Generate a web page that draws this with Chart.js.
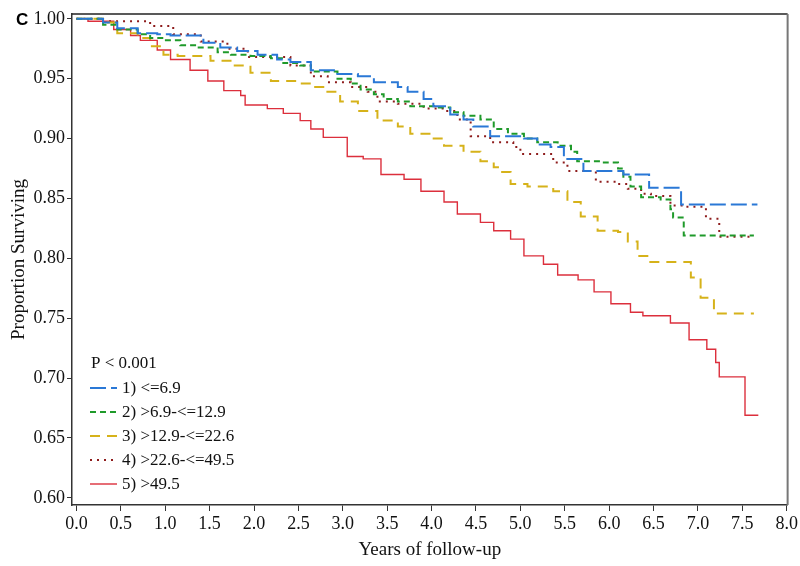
<!DOCTYPE html>
<html>
<head>
<meta charset="utf-8">
<script src="https://cdn.jsdelivr.net/npm/chart.js@4.4.0/dist/chart.umd.min.js"></script>
<style>
  html, body { margin: 0; padding: 0; background: #fff; }
  #wrap { width: 800px; height: 566px; }
</style>
</head>
<body>
<div id="wrap"><canvas id="km"></canvas></div>
<script>
// group labels
var groupNames = ['1) <=6.9', '2) >6.9-<=12.9', '3) >12.9-<=22.6', '4) >22.6-<=49.5', '5) >49.5']

// time (years) and proportion surviving at each step
var t1 = [0, 0.30, 0.46, 0.69, 0.91, 1.06, 1.43, 1.62, 1.81, 2.04, 2.26, 2.41, 2.64, 2.90, 3.17, 3.35, 3.62, 3.73, 3.91, 4.02, 4.21, 4.36, 4.47, 4.66, 5.04, 5.19, 5.34, 5.49, 5.71, 6.16, 6.45, 6.81, 7.67]
var s1 = [1.000, 0.997, 0.992, 0.988, 0.987, 0.986, 0.980, 0.976, 0.973, 0.970, 0.966, 0.964, 0.957, 0.954, 0.952, 0.947, 0.943, 0.939, 0.933, 0.927, 0.920, 0.916, 0.910, 0.902, 0.900, 0.895, 0.893, 0.883, 0.873, 0.870, 0.859, 0.845, 0.845]

var t2 = [0, 0.30, 0.46, 0.69, 0.83, 0.98, 1.17, 1.36, 1.59, 1.74, 1.96, 2.19, 2.33, 2.52, 2.64, 2.94, 3.09, 3.20, 3.35, 3.46, 3.62, 3.76, 4.07, 4.21, 4.36, 4.55, 4.70, 4.86, 5.04, 5.19, 5.42, 5.57, 5.64, 5.94, 6.10, 6.16, 6.24, 6.36, 6.58, 6.69, 6.72, 6.84, 7.63]
var s2 = [1.000, 0.995, 0.991, 0.987, 0.984, 0.982, 0.978, 0.976, 0.972, 0.970, 0.969, 0.967, 0.963, 0.961, 0.956, 0.950, 0.946, 0.941, 0.937, 0.933, 0.931, 0.927, 0.926, 0.922, 0.919, 0.916, 0.908, 0.904, 0.900, 0.897, 0.894, 0.889, 0.881, 0.880, 0.875, 0.868, 0.860, 0.851, 0.849, 0.841, 0.834, 0.819, 0.819]

var t3 = [0, 0.30, 0.46, 0.69, 0.83, 0.98, 1.14, 1.51, 1.77, 1.96, 2.19, 2.52, 2.64, 2.78, 2.97, 3.17, 3.39, 3.62, 3.76, 3.99, 4.14, 4.36, 4.55, 4.70, 4.78, 4.89, 5.08, 5.37, 5.53, 5.68, 5.87, 6.10, 6.21, 6.32, 6.45, 6.92, 7.03, 7.18, 7.63]
var s3 = [1.000, 0.997, 0.988, 0.984, 0.977, 0.970, 0.969, 0.965, 0.961, 0.955, 0.948, 0.946, 0.943, 0.939, 0.931, 0.923, 0.915, 0.910, 0.904, 0.900, 0.894, 0.889, 0.881, 0.876, 0.872, 0.862, 0.860, 0.856, 0.847, 0.835, 0.823, 0.822, 0.814, 0.802, 0.797, 0.784, 0.767, 0.754, 0.754]

var t4 = [0, 0.27, 0.83, 1.09, 1.40, 1.70, 1.93, 2.41, 2.64, 2.83, 3.09, 3.28, 3.39, 3.62, 3.91, 4.14, 4.29, 4.44, 4.66, 4.92, 5.00, 5.37, 5.53, 5.85, 6.10, 6.21, 6.36, 6.47, 6.69, 6.84, 7.09, 7.24, 7.63]
var s4 = [1.000, 0.998, 0.994, 0.987, 0.981, 0.975, 0.968, 0.961, 0.952, 0.947, 0.943, 0.939, 0.931, 0.929, 0.925, 0.923, 0.916, 0.902, 0.897, 0.893, 0.887, 0.880, 0.873, 0.864, 0.862, 0.858, 0.854, 0.852, 0.844, 0.843, 0.833, 0.818, 0.818]

var t5 = [0, 0.13, 0.42, 0.61, 0.72, 0.91, 1.06, 1.28, 1.48, 1.66, 1.85, 1.90, 2.15, 2.33, 2.52, 2.64, 2.78, 3.05, 3.23, 3.43, 3.69, 3.88, 4.14, 4.29, 4.55, 4.70, 4.89, 5.04, 5.26, 5.42, 5.65, 5.83, 6.02, 6.24, 6.38, 6.69, 6.90, 7.10, 7.20, 7.24, 7.53, 7.68]
var s5 = [1.000, 0.998, 0.991, 0.986, 0.982, 0.974, 0.966, 0.957, 0.948, 0.940, 0.936, 0.928, 0.925, 0.921, 0.915, 0.908, 0.901, 0.885, 0.883, 0.870, 0.866, 0.856, 0.847, 0.837, 0.830, 0.823, 0.816, 0.802, 0.795, 0.786, 0.782, 0.772, 0.762, 0.755, 0.752, 0.746, 0.732, 0.724, 0.713, 0.701, 0.669, 0.669]

var xTicks = [0, 0.5, 1, 1.5, 2, 2.5, 3, 3.5, 4, 4.5, 5, 5.5, 6, 6.5, 7, 7.5, 8]
var yTicks = [0.60, 0.65, 0.70, 0.75, 0.80, 0.85, 0.90, 0.95, 1.00]

var colors = ['#2a78d6', '#1f9a2a', '#d6b21a', '#8e1c1c', '#dc2f3c']
var dashes = [[16, 5], [6, 4], [10, 7], [2, 5], []]
var widths = [2, 2, 2, 2, 1.4]

function pairs(t, s){
    return t.map(function(x, i){ return {x: x, y: s[i]} })
}

var series = [[t1, s1], [t2, s2], [t3, s3], [t4, s4], [t5, s5]]
var datasets = series.map(function(d, i){
    return {
        label: groupNames[i],
        data: pairs(d[0], d[1]),
        stepped: 'before',
        borderColor: colors[i],
        borderDash: dashes[i],
        borderWidth: widths[i],
        pointRadius: 0,
        fill: false
    }
})

var serif = "'Liberation Serif', 'Times New Roman', serif"

// frame, panel letter and the legend in the lower left of the plot
var extras = {
    id: 'extras',
    afterDraw: function(chart){
        var ctx = chart.ctx
        var a = chart.chartArea
        ctx.save()
        // top and right edges of the box
        ctx.strokeStyle = '#222'
        ctx.lineWidth = 1.5
        ctx.beginPath()
        ctx.moveTo(a.left, a.top)
        ctx.lineTo(a.right, a.top)
        ctx.stroke()
        ctx.strokeStyle = '#777'
        ctx.lineWidth = 2
        ctx.beginPath()
        ctx.moveTo(a.right, a.top)
        ctx.lineTo(a.right, a.bottom)
        ctx.stroke()

        ctx.fillStyle = '#000'
        ctx.font = "bold 17px 'Liberation Sans', Arial, sans-serif"
        ctx.textBaseline = 'middle'
        ctx.textAlign = 'left'
        ctx.fillText('C', 16, 20)

        ctx.font = '17px ' + serif
        ctx.fillStyle = '#111'
        ctx.fillText('P < 0.001', 91, 364)
        var y0 = 388
        for (var i = 0; i < datasets.length; i++) {
            var y = y0 + i * 24
            ctx.strokeStyle = colors[i]
            ctx.lineWidth = widths[i]
            ctx.setLineDash(dashes[i])
            ctx.beginPath()
            ctx.moveTo(90, y)
            ctx.lineTo(117, y)
            ctx.stroke()
            ctx.setLineDash([])
            ctx.fillText(groupNames[i], 122, y + 1)
        }
        ctx.restore()
    }
}

var ctx = document.getElementById('km').getContext('2d')
var chart = new Chart(ctx, {
    type: 'line',
    data: { datasets: datasets },
    options: {
        responsive: true,
        maintainAspectRatio: false,
        animation: false,
        layout: { padding: { top: 14, right: 12, left: 0, bottom: 0 } },
        plugins: {
            legend: { display: false },
            tooltip: { enabled: false }
        },
        scales: {
            x: {
                type: 'linear',
                min: -0.05,
                max: 8.01,
                afterBuildTicks: function(scale){ scale.ticks = xTicks.map(function(v){ return {value: v} }) },
                afterFit: function(scale){ scale.height = 61 },
                grid: { drawOnChartArea: false, tickLength: 6, color: '#333' },
                border: { color: '#333', width: 1.5 },
                ticks: {
                    color: '#111',
                    padding: 2,
                    maxRotation: 0,
                    font: { family: serif, size: 18 },
                    callback: function(v){ return v.toFixed(1) }
                },
                title: {
                    display: true,
                    text: 'Years of follow-up',
                    color: '#111',
                    padding: { top: 0, bottom: 5 },
                    font: { family: serif, size: 19 }
                }
            },
            y: {
                min: 0.594,
                max: 1.004,
                afterBuildTicks: function(scale){ scale.ticks = yTicks.map(function(v){ return {value: v} }) },
                afterFit: function(scale){ scale.width = 72 },
                grid: { drawOnChartArea: false, tickLength: 5, color: '#333' },
                border: { color: '#333', width: 1.5 },
                ticks: {
                    color: '#111',
                    padding: 2,
                    font: { family: serif, size: 18 },
                    callback: function(v){ return v.toFixed(2) }
                },
                title: {
                    display: true,
                    text: 'Proportion Surviving',
                    color: '#111',
                    padding: { top: 8, bottom: 2 },
                    font: { family: serif, size: 19 }
                }
            }
        }
    },
    plugins: [extras]
})
</script>
</body>
</html>
